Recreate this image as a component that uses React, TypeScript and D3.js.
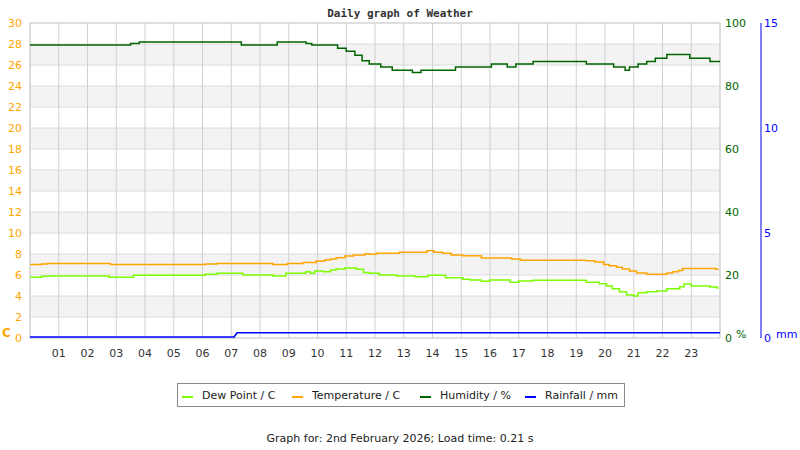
import * as d3 from "d3";

// step points: [hour, value]
const dewPoint: [number, number][] = [
  [0, 5.78], [0.4, 5.87], [0.7, 5.9], [2.75, 5.78], [3.6, 5.97], [6.1, 6.06], [6.5, 6.16],
  [7.4, 6.0], [8.45, 5.9], [8.9, 6.16], [9.6, 6.3], [9.75, 6.16], [9.9, 6.38], [10.2, 6.3],
  [10.45, 6.48], [10.65, 6.57], [10.95, 6.67], [11.35, 6.54], [11.6, 6.25], [11.8, 6.16],
  [12.15, 6.0], [12.75, 5.9], [13.4, 5.84], [13.85, 5.97], [14.45, 5.75], [15.05, 5.59],
  [15.3, 5.52], [15.7, 5.4], [16.0, 5.52], [16.7, 5.3], [17.0, 5.43], [17.5, 5.49],
  [19.35, 5.3], [19.8, 5.17], [20.05, 4.95], [20.25, 4.7], [20.5, 4.41], [20.75, 4.1],
  [21.0, 4.0], [21.15, 4.32], [21.45, 4.41], [21.8, 4.48], [22.15, 4.7], [22.6, 4.89],
  [22.75, 5.14], [23.0, 4.95], [23.65, 4.86], [23.9, 4.76], [23.95, 4.76],
];

const temperature: [number, number][] = [
  [0, 7.0], [0.4, 7.05], [0.6, 7.1], [2.8, 7.0], [6.1, 7.05], [6.5, 7.1], [8.45, 7.0],
  [8.95, 7.1], [9.5, 7.2], [9.95, 7.33], [10.25, 7.43], [10.45, 7.52], [10.65, 7.65],
  [10.95, 7.8], [11.25, 7.9], [11.65, 8.03], [11.8, 7.97], [12.05, 8.06], [12.85, 8.16],
  [13.8, 8.3], [14.05, 8.16], [14.35, 8.06], [14.65, 7.9], [15.05, 7.84], [15.7, 7.62],
  [16.75, 7.52], [17.05, 7.4], [19.35, 7.35], [19.65, 7.24], [19.95, 7.0], [20.15, 6.89],
  [20.4, 6.73], [20.6, 6.57], [20.85, 6.38], [21.1, 6.19], [21.45, 6.06], [22.15, 6.19],
  [22.35, 6.32], [22.55, 6.44], [22.7, 6.63], [23.85, 6.55], [23.95, 6.55],
];

const humidity: [number, number][] = [
  [0, 93], [3.5, 93.5], [3.8, 94], [7.35, 93], [8.6, 94], [9.6, 93.5], [9.8, 93],
  [10.7, 92], [11.0, 91], [11.3, 89.8], [11.55, 88], [11.8, 87], [12.2, 86], [12.6, 85],
  [13.3, 84.3], [13.6, 85], [14.8, 86], [16.05, 87], [16.6, 86], [16.9, 87], [17.5, 87.8],
  [19.35, 87], [20.3, 86], [20.7, 85], [20.85, 86], [21.15, 87], [21.45, 87.8],
  [21.75, 88.8], [22.15, 90], [22.95, 88.8], [23.65, 87.8], [24, 87.8],
];

const rainHours = [0, 7.1, 7.2, 24];
const rainValues = [0, 0, 0.2, 0.2];

const hourLabels = ["01", "02", "03", "04", "05", "06", "07", "08", "09", "10", "11", "12",
  "13", "14", "15", "16", "17", "18", "19", "20", "21", "22", "23"];
const tempTicks = [0, 2, 4, 6, 8, 10, 12, 14, 16, 18, 20, 22, 24, 26, 28, 30];
const humTicks = [0, 20, 40, 60, 80, 100];
const rainTicks = [0, 5, 10, 15];

const legend = [
  { label: "Dew Point / C", color: "#7cfc00", x: 182 },
  { label: "Temperature / C", color: "#ffa500", x: 292 },
  { label: "Humidity / %", color: "#006400", x: 420 },
  { label: "Rainfall / mm", color: "#0000ff", x: 525 },
];

const W = 800, H = 450;
const left = 30, right = 720, top = 23, bottom = 338;

const x = d3.scaleLinear().domain([0, 24]).range([left, right]);
const yT = d3.scaleLinear().domain([0, 30]).range([bottom, top]);
const yH = d3.scaleLinear().domain([0, 100]).range([bottom, top]);
const yR = d3.scaleLinear().domain([0, 15]).range([bottom, top]);

const stepLine = (y: d3.ScaleLinear<number, number>) =>
  d3.line<[number, number]>().x((d) => x(d[0])).y((d) => y(d[1])).curve(d3.curveStepAfter);

const rainLine = d3
  .line<number>()
  .x((_, i) => x(rainHours[i]))
  .y((d) => yR(d) - 1);

const font = "DejaVu Sans, sans-serif";

export default function App() {
  const bands = tempTicks.filter((t) => t % 4 === 2 && t < 30);
  return (
    <svg width={W} height={H} style={{ position: "absolute", left: 0, top: 0 }} fontFamily={font}>
      <rect width={W} height={H} fill="#fff" />
      <text x={400} y={17} textAnchor="middle" fontFamily="DejaVu Sans Mono, monospace"
        fontWeight="bold" fontSize={11} fill="#333">Daily graph of Weather</text>

      {bands.map((t) => (
        <rect key={t} x={left} y={yT(t + 2)} width={right - left} height={yT(t) - yT(t + 2)} fill="#f3f3f3" />
      ))}
      {tempTicks.map((t) => (
        <line key={t} x1={left} x2={right} y1={yT(t)} y2={yT(t)} stroke="#dcdcdc" />
      ))}
      {d3.range(0, 25).map((h) => (
        <line key={h} x1={x(h)} x2={x(h)} y1={top} y2={bottom} stroke="#d0d0d0" />
      ))}
      <rect x={left} y={top} width={right - left} height={bottom - top} fill="none" stroke="#d0d0d0" />

      <path d={stepLine(yT)(temperature) ?? ""} fill="none" stroke="#ffa500" strokeWidth={1.5} />
      <path d={stepLine(yT)(dewPoint) ?? ""} fill="none" stroke="#7cfc00" strokeWidth={1.5} />
      <path d={stepLine(yH)(humidity) ?? ""} fill="none" stroke="#006400" strokeWidth={1.5} />
      <path d={rainLine(rainValues) ?? ""} fill="none" stroke="#0000ff" strokeWidth={1.5} />

      {tempTicks.map((t) => (
        <text key={t} x={22} y={yT(t) + 4} textAnchor="end" fontSize={11} fill="#ffa500">{t}</text>
      ))}
      <text x={2} y={337} fontSize={12} fontWeight="bold" fill="#ffa500">C</text>

      {hourLabels.map((l, i) => (
        <text key={l} x={x(i + 1)} y={357} textAnchor="middle" fontSize={11} fill="#333">{l}</text>
      ))}

      {humTicks.map((t) => (
        <text key={t} x={725} y={yH(t) + 4} fontSize={11} fill="#006400">{t}</text>
      ))}
      <text x={736} y={338} fontSize={11} fill="#006400">%</text>

      <line x1={761} x2={761} y1={top} y2={bottom} stroke="#0000ff" strokeWidth={1} />
      {rainTicks.map((t) => (
        <text key={t} x={764} y={yR(t) + 4} fontSize={11} fill="#0000ff">{t}</text>
      ))}
      <text x={776} y={338} fontSize={11} fill="#0000ff">mm</text>

      <rect x={177.5} y={383.5} width={447} height={23} fill="#fff" stroke="#888" />
      {legend.map((e) => (
        <g key={e.label}>
          <line x1={e.x} x2={e.x + 11} y1={397} y2={397} stroke={e.color} strokeWidth={2} />
          <text x={e.x + 20} y={399} fontSize={11} fill="#222">{e.label}</text>
        </g>
      ))}

      <text x={400} y={442} textAnchor="middle" fontSize={11} fill="#222">
        Graph for: 2nd February 2026; Load time: 0.21 s
      </text>
    </svg>
  );
}
